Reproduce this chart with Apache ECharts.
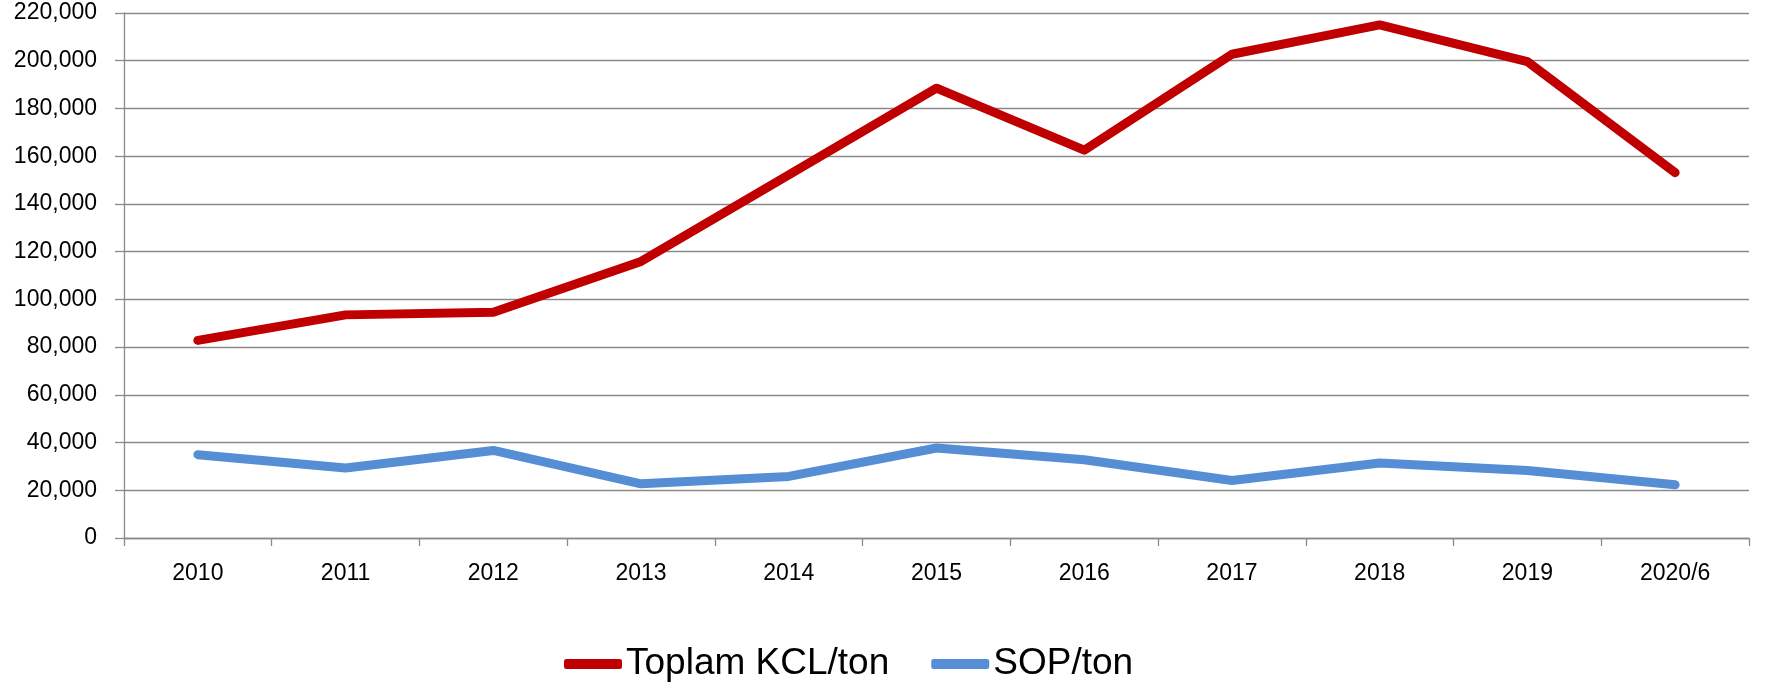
<!DOCTYPE html>
<html>
<head>
<meta charset="utf-8">
<script src="https://cdn.jsdelivr.net/npm/echarts@6/dist/echarts.min.js"></script>
<style>
  html, body { margin: 0; padding: 0; background: #fff; }
  #chart { width: 1765px; height: 689px; }
</style>
</head>
<body>
<div id="chart"></div>
<script>
// 年份（类目）
const years = ['2010', '2011', '2012', '2013', '2014', '2015', '2016', '2017', '2018', '2019', '2020/6'];

// 两条线的数值（吨）
const kclValues = [82800, 93500, 94600, 115900, 152200, 188500, 162500, 202700, 215000, 199600, 153100];
const sopValues = [34900, 29300, 36700, 22700, 25800, 37700, 32800, 24100, 31400, 28300, 22300];

// 系列名称
const seriesNames = ['Toplam KCL/ton', 'SOP/ton'];

const chart = echarts.init(document.getElementById('chart'));

const gridColor = '#8a8a8a';
const fontFamily = '"Liberation Sans", Arial, sans-serif';

const option = {
    animation: false,
    grid: { left: 124, right: 16, top: 13, bottom: 151, containLabel: false },
    legend: {
        data: seriesNames.map(name => ({ name: name, icon: 'roundRect' })),
        left: 564,
        top: 644,
        padding: 0,
        itemWidth: 58,
        itemHeight: 10,
        itemGap: 42,
        textStyle: { fontFamily: fontFamily, fontSize: 37, color: '#000', lineHeight: 40, padding: [0, 0, 0, -1] }
    },
    xAxis: {
        type: 'category',
        data: years,
        boundaryGap: true,
        axisLine: { lineStyle: { color: gridColor, width: 1.3 } },
        axisTick: { show: true, length: 8, lineStyle: { color: gridColor, width: 1.3 } },
        axisLabel: { fontFamily: fontFamily, fontSize: 23, color: '#000', margin: 24 }
    },
    yAxis: {
        type: 'value',
        min: 0,
        max: 220000,
        interval: 20000,
        axisLine: { show: true, lineStyle: { color: gridColor, width: 1.3 } },
        axisTick: { show: true, length: 9, lineStyle: { color: gridColor, width: 1.3 } },
        splitLine: { lineStyle: { color: gridColor, width: 1.3 } },
        axisLabel: {
            fontFamily: fontFamily,
            fontSize: 23,
            color: '#000',
            margin: 27,
            formatter: val => val.toLocaleString('en-US')
        }
    },
    series: [
        {
            name: seriesNames[0],
            type: 'line',
            data: kclValues,
            showSymbol: false,
            itemStyle: { color: '#C00000' },
            lineStyle: { color: '#C00000', width: 9, cap: 'round', join: 'round' }
        },
        {
            name: seriesNames[1],
            type: 'line',
            data: sopValues,
            showSymbol: false,
            itemStyle: { color: '#558ED5' },
            lineStyle: { color: '#558ED5', width: 9, cap: 'round', join: 'round' }
        }
    ]
};

chart.setOption(option);
</script>
</body>
</html>
